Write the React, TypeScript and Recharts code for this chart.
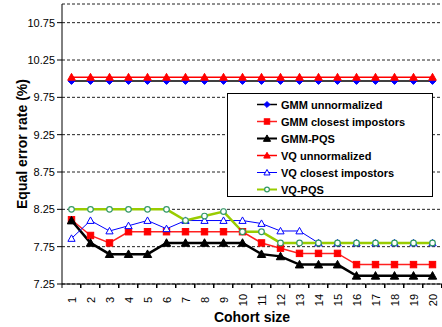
import React from 'react'
import { ComposedChart, Line, XAxis, YAxis, CartesianGrid, Legend, Label } from 'recharts'

const categories = ['1', '2', '3', '4', '5', '6', '7', '8', '9', '10', '11', '12', '13', '14', '15', '16', '17', '18', '19', '20']
const gmmUnnormalized = [9.97, 9.97, 9.97, 9.97, 9.97, 9.97, 9.97, 9.97, 9.97, 9.97, 9.97, 9.97, 9.97, 9.97, 9.97, 9.97, 9.97, 9.97, 9.97, 9.97]
const gmmClosest = [8.11, 7.9, 7.8, 7.95, 7.95, 7.95, 7.95, 7.95, 7.95, 7.95, 7.8, 7.73, 7.66, 7.66, 7.66, 7.51, 7.51, 7.51, 7.51, 7.51]
const gmmPqs = [8.1, 7.8, 7.65, 7.65, 7.65, 7.8, 7.8, 7.8, 7.8, 7.8, 7.65, 7.62, 7.51, 7.51, 7.51, 7.36, 7.36, 7.36, 7.36, 7.36]
const vqUnnormalized = [10.02, 10.02, 10.02, 10.02, 10.02, 10.02, 10.02, 10.02, 10.02, 10.02, 10.02, 10.02, 10.02, 10.02, 10.02, 10.02, 10.02, 10.02, 10.02, 10.02]
const vqClosest = [7.86, 8.1, 7.96, 8.03, 8.1, 7.99, 8.1, 8.1, 8.1, 8.1, 8.06, 7.96, 7.96, 7.8, 7.8, 7.8, 7.8, 7.8, 7.8, 7.8]
const vqPqs = [8.25, 8.25, 8.25, 8.25, 8.25, 8.25, 8.1, 8.16, 8.22, 7.95, 7.95, 7.8, 7.8, 7.8, 7.8, 7.8, 7.8, 7.8, 7.8, 7.8]
const yTicks = [7.25, 7.75, 8.25, 8.75, 9.25, 9.75, 10.25, 10.75]

const W = 442
const H = 327
const Y_W = 62
const X_H = 43
const AXIS_Y = H - X_H
const FONT = '"Liberation Sans", Arial, sans-serif'
const HALF_BAND = (W - Y_W) / categories.length / 2

type Kind = 'diamond' | 'square' | 'triangle' | 'circle'

const series = [
  { key: 'gmmU', name: 'GMM unnormalized', stroke: '#000000', width: 1.5, kind: 'diamond' as Kind, mColor: '#0000ff', mFill: '#0000ff', size: 3.5 },
  { key: 'gmmC', name: 'GMM closest impostors', stroke: '#ff2020', width: 1.5, kind: 'square' as Kind, mColor: '#ff0000', mFill: '#ff0000', size: 3.2 },
  { key: 'gmmP', name: 'GMM-PQS', stroke: '#000000', width: 2.5, kind: 'triangle' as Kind, mColor: '#000000', mFill: '#000000', size: 4.2 },
  { key: 'vqU', name: 'VQ unnormalized', stroke: '#ff0000', width: 1.5, kind: 'triangle' as Kind, mColor: '#ff0000', mFill: '#ff0000', size: 3.8 },
  { key: 'vqC', name: 'VQ closest impostors', stroke: '#0000ff', width: 1, kind: 'triangle' as Kind, mColor: '#0000ff', mFill: '#ffffff', size: 3.6 },
  { key: 'vqP', name: 'VQ-PQS', stroke: '#99cc00', width: 2.5, kind: 'circle' as Kind, mColor: '#339966', mFill: '#ffffff', size: 2.8 },
]

const data = categories.map((c, i) => ({
  cohort: c,
  gmmU: gmmUnnormalized[i],
  gmmC: gmmClosest[i],
  gmmP: gmmPqs[i],
  vqU: vqUnnormalized[i],
  vqC: vqClosest[i],
  vqP: vqPqs[i],
}))

function Marker({ cx, cy, kind, color, fill, size }: { cx: number; cy: number; kind: Kind; color: string; fill: string; size: number }) {
  if (kind === 'diamond') {
    return <polygon points={`${cx},${cy - size} ${cx + size},${cy} ${cx},${cy + size} ${cx - size},${cy}`} fill={fill} stroke={color} strokeWidth={1} />
  }
  if (kind === 'square') {
    return <rect x={cx - size} y={cy - size} width={size * 2} height={size * 2} fill={fill} stroke={color} strokeWidth={1} />
  }
  if (kind === 'triangle') {
    return <polygon points={`${cx},${cy - size} ${cx + size},${cy + size * 0.8} ${cx - size},${cy + size * 0.8}`} fill={fill} stroke={color} strokeWidth={1} />
  }
  return <circle cx={cx} cy={cy} r={size} fill={fill} stroke={color} strokeWidth={1.2} />
}

function XTick(props: any) {
  const { x, payload } = props
  const ly = AXIS_Y + 16
  return (
    <g>
      <line x1={x - HALF_BAND} y1={AXIS_Y} x2={x - HALF_BAND} y2={AXIS_Y + 4} stroke="#000" />
      <line x1={x + HALF_BAND - 0.5} y1={AXIS_Y} x2={x + HALF_BAND - 0.5} y2={AXIS_Y + 4} stroke="#000" />
      <text
        x={x}
        y={ly}
        transform={`rotate(-90 ${x} ${ly})`}
        textAnchor="middle"
        dominantBaseline="central"
        fontSize={11}
        fontFamily={FONT}
        fill="#000"
      >
        {payload.value}
      </text>
    </g>
  )
}

function LegendBox() {
  return (
    <div style={{ width: 204, height: 102, border: '1px solid #000', background: '#fff', boxSizing: 'content-box' }}>
      <svg width={204} height={102}>
        {series.map((s, i) => {
          const cy = 10.5 + i * 17
          return (
            <g key={s.key}>
              <line x1={29} y1={cy} x2={49} y2={cy} stroke={s.stroke} strokeWidth={Math.min(s.width, 2)} />
              <Marker cx={39} cy={cy} kind={s.kind} color={s.mColor} fill={s.mFill} size={s.size * 0.85} />
              <text x={53} y={cy} dominantBaseline="central" fontSize={11} fontWeight="bold" fontFamily={FONT} fill="#000">
                {s.name}
              </text>
            </g>
          )
        })}
      </svg>
    </div>
  )
}

export default function App() {
  return (
    <div style={{ position: 'absolute', left: 0, top: 0, width: W, height: H, background: '#fff' }}>
      <ComposedChart width={W} height={H} data={data} margin={{ top: 4, right: 0, left: 0, bottom: 0 }}>
        <CartesianGrid horizontal vertical={false} stroke="#222" strokeDasharray="3 2" />
        <XAxis
          dataKey="cohort"
          interval={0}
          height={X_H}
          padding={{ left: HALF_BAND, right: HALF_BAND }}
          tickLine={false}
          axisLine={{ stroke: '#000' }}
          tick={<XTick />}
        >
          <Label
            content={(p: any) => {
              const vb = p.viewBox
              return (
                <text x={vb.x + vb.width / 2} y={vb.y + vb.height - 10} textAnchor="middle" dominantBaseline="central" fontSize={14} fontWeight="bold" fontFamily={FONT} fill="#000">
                  Cohort size
                </text>
              )
            }}
          />
        </XAxis>
        <YAxis
          width={Y_W}
          domain={[7.25, 11]}
          ticks={yTicks}
          tickFormatter={(v: number) => v.toFixed(2)}
          tick={{ fontSize: 11, fill: '#000', fontFamily: FONT }}
          tickSize={5}
          tickMargin={2}
          tickLine={{ stroke: '#000' }}
          axisLine={{ stroke: '#000' }}
        >
          <Label
            content={(p: any) => {
              const vb = p.viewBox
              const cx = 22
              const cy = vb.y + vb.height / 2
              return (
                <text x={cx} y={cy} transform={`rotate(-90 ${cx} ${cy})`} textAnchor="middle" dominantBaseline="central" fontSize={14} fontWeight="bold" fontFamily={FONT} fill="#000">
                  Equal error rate (%)
                </text>
              )
            }}
          />
        </YAxis>
        <Legend
          layout="horizontal"
          align="center"
          verticalAlign="middle"
          content={() => <LegendBox />}
          wrapperStyle={{ left: 227, top: 93, width: 206, height: 104 }}
        />
        {series.map((s) => (
          <Line
            key={s.key}
            dataKey={s.key}
            name={s.name}
            type="linear"
            stroke={s.stroke}
            strokeWidth={s.width}
            isAnimationActive={false}
            dot={(p: any) => <Marker key={`${s.key}-${p.index}`} cx={p.cx} cy={p.cy} kind={s.kind} color={s.mColor} fill={s.mFill} size={s.size} />}
            activeDot={false}
          />
        ))}
      </ComposedChart>
    </div>
  )
}
